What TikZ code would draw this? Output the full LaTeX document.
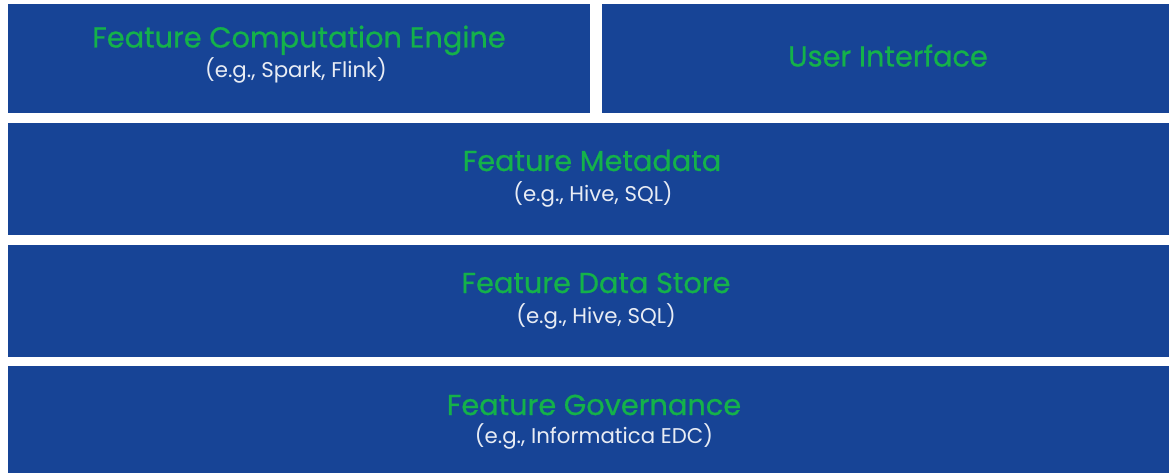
\documentclass[tikz,border=0pt]{standalone}
\usepackage{fontspec}
\setmainfont{Poppins}
\newfontfamily\ttlfont{Poppins}[FakeBold=0.7]
\definecolor{boxblue}{HTML}{174496}
\definecolor{titlegreen}{HTML}{14B24A}
\definecolor{subwhite}{HTML}{E8ECF4}
\begin{document}
\begin{tikzpicture}[x=1pt,y=-1pt,
  layer/.style={fill=boxblue,draw=none},
  ttl/.style={text=titlegreen,font=\ttlfont\fontsize{28.8}{32}\selectfont,inner sep=0pt,anchor=base},
  sub/.style={text=subwhite,font=\fontsize{21.3}{24}\selectfont,inner sep=0pt,anchor=base}]
\useasboundingbox (0,0) rectangle (1169,473);
\fill[white] (0,0) rectangle (1169,473);
\path[layer] (8,4) rectangle (590,113);
\path[layer] (602,4) rectangle (1169,113);
\path[layer] (8,123) rectangle (1169,235);
\path[layer] (8,245) rectangle (1169,357);
\path[layer] (8,366) rectangle (1169,473);
\node[ttl] (t1) at (299,47.5) {Feature Computation Engine};
\node[sub] (s1) at (296,78) {(e.g., Spark, Flink)};
\node[ttl] (t2) at (888,66.5) {User Interface};
\node[ttl] (t3) at (592,171) {Feature Metadata};
\node[sub] (s3) at (593,201) {(e.g., Hive, SQL)};
\node[ttl] (t4) at (596,293) {Feature Data Store};
\node[sub] (s4) at (596,323) {(e.g., Hive, SQL)};
\node[ttl] (t5) at (594,415) {Feature Governance};
\node[sub] (s5) at (594,443) {(e.g., Informatica EDC)};
\end{tikzpicture}
\end{document}
